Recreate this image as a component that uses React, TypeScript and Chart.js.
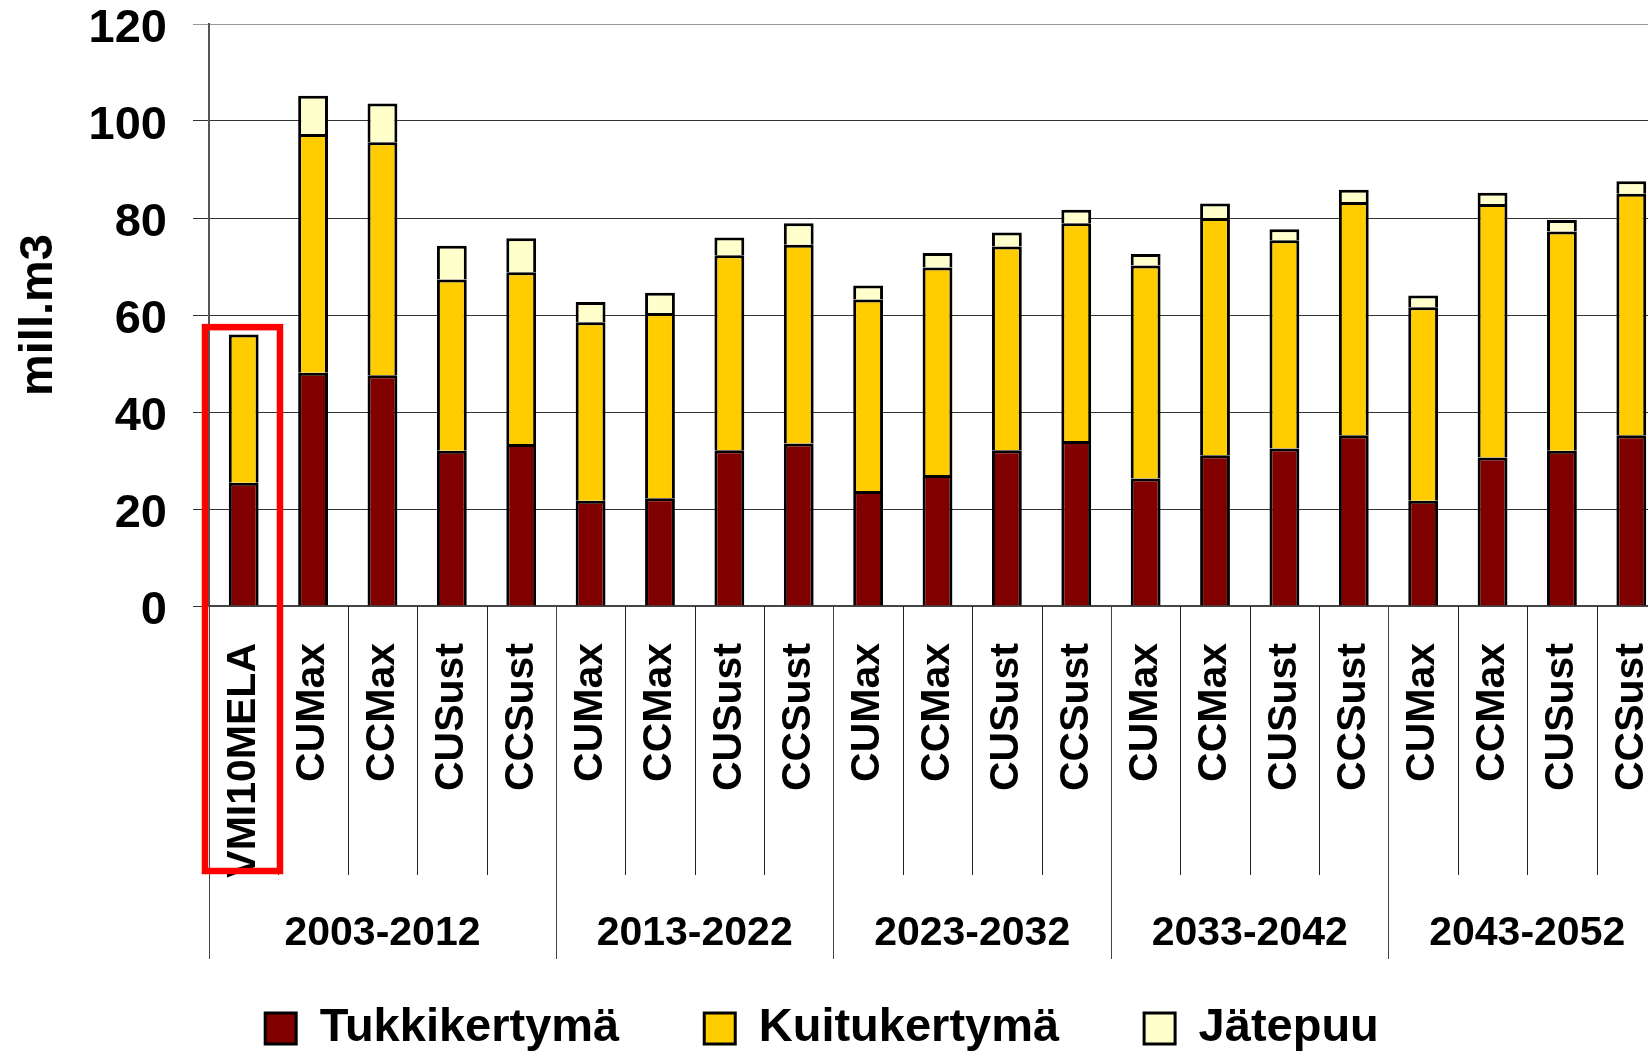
import React, { useEffect, useRef } from 'react';
import { Chart, registerables } from 'chart.js';

Chart.register(...registerables);

// ---- data ----
const categories = [
  'VMI10MELA', 'CUMax', 'CCMax', 'CUSust', 'CCSust',
  'CUMax', 'CCMax', 'CUSust', 'CCSust',
  'CUMax', 'CCMax', 'CUSust', 'CCSust',
  'CUMax', 'CCMax', 'CUSust', 'CCSust',
  'CUMax', 'CCMax', 'CUSust', 'CCSust',
];
const groups = ['2003-2012', '2013-2022', '2023-2032', '2033-2042', '2043-2052'];
const groupSizes = [5, 4, 4, 4, 4];

const tukki = [25.4, 48.1, 47.6, 32.0, 33.4, 21.7, 22.2, 32.1, 33.5, 23.7, 27.0, 32.1, 34.0, 26.3, 31.1, 32.5, 35.2, 21.7, 30.6, 32.0, 35.2];
const kuitu = [30.6, 49.2, 48.0, 35.3, 35.4, 36.8, 38.2, 40.2, 41.0, 39.5, 42.8, 42.0, 44.9, 43.9, 48.9, 42.9, 48.1, 39.9, 52.3, 45.2, 49.8];
const jate = [null, 7.9, 8.0, 7.0, 7.0, 4.2, 4.2, 3.7, 4.4, 2.9, 3.0, 2.9, 2.8, 2.4, 3.0, 2.3, 2.5, 2.4, 2.3, 2.4, 2.6];

const seriesNames = ['Tukkikertymä', 'Kuitukertymä', 'Jätepuu'];
const yMin = 0;
const yMax = 120;
const yStep = 20;
const yTitle = 'mill.m3';
const highlightTop = 57.5;

const FONT = "'Liberation Sans', Arial, Helvetica, sans-serif";

const groupPlugin = {
  id: 'groupPlugin',
  afterDraw(chart: any) {
    const { ctx } = chart;
    const xs = chart.scales.x;
    const ys = chart.scales.y;
    const top = xs.top;
    ctx.save();
    // category separators
    const boundaries: number[] = [0];
    let acc = 0;
    groupSizes.forEach((s) => { acc += s; boundaries.push(acc); });
    for (let i = 0; i <= categories.length; i++) {
      const x = Math.round(xs.getPixelForValue(i - 0.5)) + 0.5;
      const isGroup = boundaries.includes(i);
      ctx.beginPath();
      ctx.strokeStyle = isGroup ? '#444' : '#222';
      ctx.lineWidth = 1;
      ctx.moveTo(x, top);
      ctx.lineTo(x, top + (isGroup ? 353 : 269));
      ctx.stroke();
    }
    // group labels
    ctx.fillStyle = '#000';
    ctx.font = `bold 41px ${FONT}`;
    ctx.textAlign = 'center';
    ctx.textBaseline = 'middle';
    groups.forEach((g, gi) => {
      const a = xs.getPixelForValue(boundaries[gi] - 0.5);
      const b = xs.getPixelForValue(boundaries[gi + 1] - 0.5);
      ctx.fillText(g, (a + b) / 2, top + 328);
    });
    // highlight box around first category
    const left = xs.getPixelForValue(-0.5) - 4;
    const right = xs.getPixelForValue(0.5) + 1.6;
    const yTop = ys.getPixelForValue(highlightTop);
    const yBot = top + 265;
    ctx.strokeStyle = '#ff0000';
    ctx.lineWidth = 6.5;
    ctx.strokeRect(left, yTop, right - left, yBot - yTop);
    ctx.restore();
  },
};

export default function App() {
  const ref = useRef<HTMLCanvasElement>(null);

  useEffect(() => {
    if (!ref.current) return;
    Chart.defaults.color = '#000';
    const chart = new Chart(ref.current, {
      type: 'bar',
      data: {
        labels: categories,
        datasets: [
          { label: seriesNames[0], data: tukki, backgroundColor: '#800000', borderColor: '#000', borderWidth: 3 },
          { label: seriesNames[1], data: kuitu, backgroundColor: '#FFCC00', borderColor: '#000', borderWidth: 3 },
          { label: seriesNames[2], data: jate as any, backgroundColor: '#FFFFCC', borderColor: '#000', borderWidth: 3 },
        ],
      },
      options: {
        responsive: false,
        animation: false,
        devicePixelRatio: 1,
        layout: { padding: { top: 24, left: 0, right: 0, bottom: 0 } },
        datasets: { bar: { barPercentage: 0.43, categoryPercentage: 1, inflateAmount: 0 } },
        plugins: {
          tooltip: { enabled: false },
          legend: {
            position: 'bottom',
            maxHeight: 142,
            labels: {
              boxWidth: 31,
              boxHeight: 31,
              padding: 85,
              color: '#000',
              font: { family: FONT, size: 47, weight: 'bold' },
            },
          },
        },
        scales: {
          x: {
            stacked: true,
            grid: { display: false },
            border: { display: true, color: '#444', width: 2 },
            ticks: {
              autoSkip: false,
              minRotation: 90,
              maxRotation: 90,
              padding: 29,
              color: '#000',
              font: { family: FONT, size: 41, weight: 'bold' },
            },
            afterFit: (s: any) => {
              s.height = 314;
              s.paddingLeft = 0;
              s.paddingRight = 0;
            },
          },
          y: {
            stacked: true,
            min: yMin,
            max: yMax,
            ticks: {
              stepSize: yStep,
              padding: 26,
              labelOffset: 5,
              color: '#000',
              font: { family: FONT, size: 47, weight: 'bold' },
            },
            grid: {
              color: (c: any) => (c.tick && c.tick.value === yMax ? '#999' : '#333'),
              lineWidth: 1,
              tickLength: 16,
            },
            border: { display: true, color: '#555', width: 2 },
            title: {
              display: true,
              text: yTitle,
              color: '#000',
              font: { family: FONT, size: 47, weight: 'bold' },
              padding: { top: 33, bottom: 0 },
            },
            afterFit: (s: any) => {
              s.width = 231;
              s.paddingTop = 0;
              s.paddingBottom = 0;
            },
          },
        },
      },
      plugins: [groupPlugin],
    });
    return () => chart.destroy();
  }, []);

  return (
    <div style={{ position: 'fixed', left: 0, top: 0, width: '100vw', height: '100vh', overflow: 'hidden', background: '#fff' }}>
      <canvas
        ref={ref}
        width={1688}
        height={1062}
        style={{ position: 'absolute', left: -22, top: 0, width: 1688, height: 1062 }}
      />
    </div>
  );
}
